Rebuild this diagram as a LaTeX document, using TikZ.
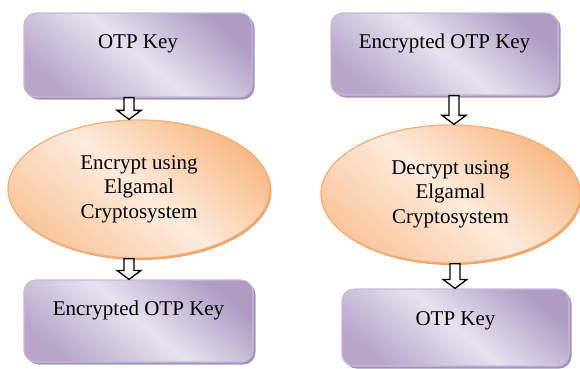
\documentclass[tikz,border=0pt]{standalone}
\usepackage{fontspec}
\setmainfont{Liberation Serif}
\usetikzlibrary{shapes.geometric,shadows,calc}
\definecolor{boxdark}{HTML}{AE9CC4}
\definecolor{boxlight}{HTML}{E8E2EF}
\definecolor{boxedge}{HTML}{C6BAD8}
\definecolor{boxshadow}{HTML}{A394BB}
\definecolor{elldark}{HTML}{F8BA86}
\definecolor{elllight}{HTML}{FDEBDD}
\definecolor{elledge}{HTML}{F5AF78}
\definecolor{ellshadow}{HTML}{E9A46C}
\newcommand\barrow[3]{\draw[arrowsty] let \p1=(#2), \p2=(#3) in
  (#1pt-5pt,\y1) -- (#1pt+5pt,\y1) -- (#1pt+5pt,\y2+9pt) -- (#1pt+12pt,\y2+9pt)
  -- (#1pt,\y2) -- (#1pt-12pt,\y2+9pt) -- (#1pt-5pt,\y2+9pt) -- cycle;}
\begin{document}
\begin{tikzpicture}[x=1pt,y=-1pt,
  keybox/.style={rectangle, rounded corners=12pt, draw=boxedge, line width=1.2pt,
    inner sep=0pt, top color=boxdark, bottom color=boxdark!85!boxlight, middle color=boxlight,
    shading angle=-40,
    general shadow={shadow xshift=2.5pt, shadow yshift=-2.5pt, fill=boxshadow},
    font=\fontsize{21}{24.5}\selectfont},
  procell/.style={ellipse, draw=elledge, line width=1.3pt, inner sep=0pt,
    top color=elldark, bottom color=elldark!75!elllight, middle color=elllight,
    shading angle=-40,
    general shadow={shadow xshift=1.5pt, shadow yshift=-2pt, fill=ellshadow},
    align=center, font=\fontsize{21}{24.5}\selectfont},
  arrowsty/.style={draw=black, fill=white, line width=1.3pt, line join=miter}]
\useasboundingbox (0,0) rectangle (580,368);
% left column
\node[keybox, minimum width=228pt, minimum height=84pt, text height=35pt, text depth=49pt]
  (k1) at (138,55) {OTP Key};
\node[procell, minimum width=262pt, minimum height=138pt] (e1) at (139,189)
  {Encrypt using\\Elgamal\\Cryptosystem};
\node[keybox, minimum width=229pt, minimum height=82pt, text height=35pt, text depth=47pt]
  (k2) at (138.5,321) {Encrypted OTP Key};
% right column
\node[keybox, minimum width=227pt, minimum height=82pt, text height=35pt, text depth=47pt]
  (k3) at (444.5,54) {Encrypted OTP Key};
\node[procell, minimum width=259pt, minimum height=138pt] (e2) at (450.5,194)
  {Decrypt using\\Elgamal\\Cryptosystem};
\node[keybox, minimum width=227pt, minimum height=77pt, text height=36pt, text depth=41pt]
  (k4) at (455.5,327.5) {OTP Key};
% arrows
\barrow{129}{k1.south}{e1.north}
\barrow{129}{e1.south}{k2.north}
\barrow{454}{k3.south}{e2.north}
\barrow{455}{e2.south}{k4.north}
\end{tikzpicture}
\end{document}
